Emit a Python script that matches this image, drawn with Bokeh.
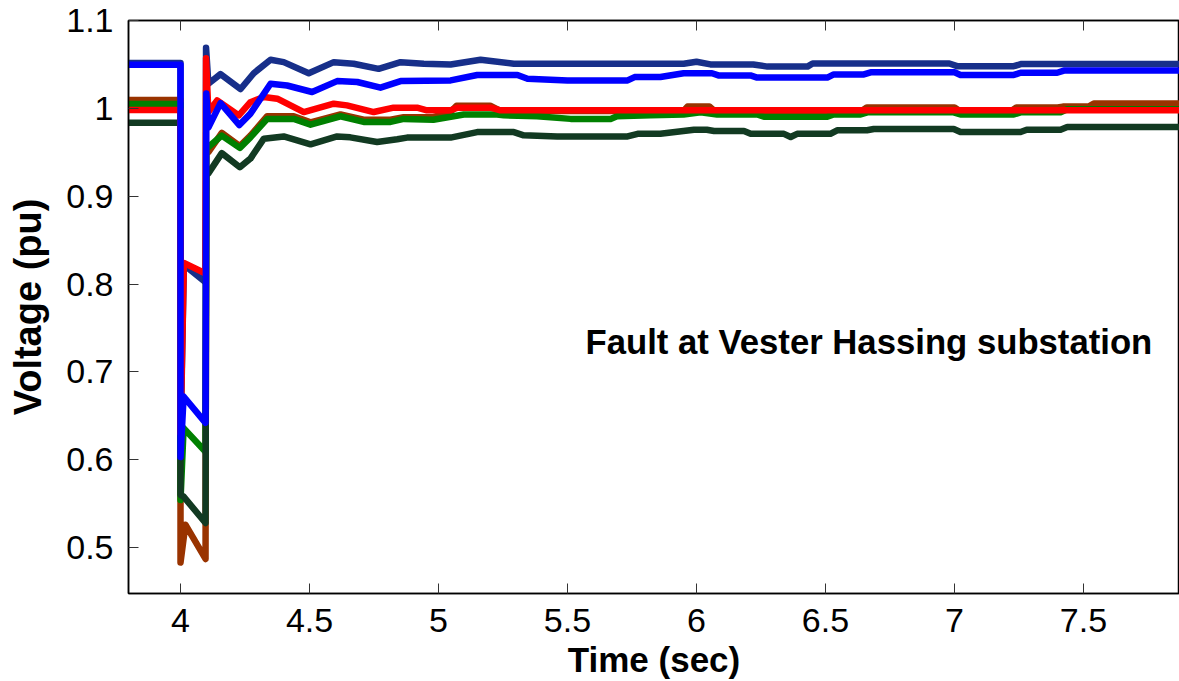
from bokeh.plotting import figure
from bokeh.models import Range1d, LinearAxis, FixedTicker, Label
from bokeh.embed import file_html
from bokeh.resources import INLINE

# ---------------- data ----------------
navy_t = [3.8, 4.0, 4.0, 4.013, 4.097, 4.099, 4.108, 4.155, 4.233, 4.284, 4.349, 4.40, 4.497,
          4.594, 4.671, 4.768, 4.853, 4.943, 5.047, 5.163, 5.292, 5.95, 6.0, 6.054, 6.22, 6.275,
          6.43, 6.45, 6.98, 7.01, 7.23, 7.26, 7.88]
navy_v = [1.0515, 1.0515, 0.62, 0.822, 0.802, 1.069, 1.028, 1.039, 1.022, 1.040, 1.0553, 1.0526,
          1.040, 1.0526, 1.0508, 1.045, 1.0526, 1.0508, 1.050, 1.0553, 1.0508, 1.0508, 1.053, 1.050,
          1.050, 1.0475, 1.0475, 1.051, 1.051, 1.048, 1.048, 1.0505, 1.0505]

blue_t = [3.8, 4.0, 4.0, 4.012, 4.097, 4.100, 4.108, 4.155, 4.228, 4.271, 4.349, 4.413, 4.510,
          4.607, 4.685, 4.775, 4.853, 5.047, 5.15, 5.306, 5.345, 5.50, 5.733, 5.76, 5.86, 5.95,
          6.06, 6.085, 6.209, 6.235, 6.507, 6.532, 6.649, 6.675, 7.0, 7.023, 7.23, 7.256, 7.398,
          7.424, 7.88]
blue_v = [1.0495, 1.0495, 0.603, 0.672, 0.642, 1.017, 0.978, 1.006, 0.981, 0.994, 1.028, 1.026,
          1.0186, 1.031, 1.030, 1.0235, 1.031, 1.0318, 1.038, 1.038, 1.0337, 1.0318, 1.0318, 1.0356,
          1.0356, 1.040, 1.040, 1.0375, 1.0375, 1.035, 1.035, 1.0386, 1.0386, 1.041, 1.041, 1.038,
          1.038, 1.0405, 1.0405, 1.043, 1.043]

red_t = [3.8, 4.0, 4.0, 4.013, 4.097, 4.099, 4.108, 4.142, 4.226, 4.271, 4.323, 4.375, 4.478,
         4.594, 4.645, 4.749, 4.826, 4.917, 4.955, 5.047, 5.073, 5.202, 5.24, 7.88]
red_v = [0.998, 0.998, 0.63, 0.824, 0.812, 1.057, 0.9958, 1.009, 0.992, 1.007, 1.0129, 1.011,
         0.9958, 1.0053, 1.0034, 0.9958, 1.0008, 1.0008, 0.9977, 0.9977, 1.0008, 1.0008, 0.9977,
         0.9977]

green_t = [3.8, 4.0, 4.0, 4.012, 4.097, 4.100, 4.108, 4.16, 4.23, 4.271, 4.336, 4.439, 4.504,
           4.62, 4.71, 4.814, 4.865, 4.98, 5.098, 5.227, 5.253, 5.382, 5.512, 5.667, 5.692, 5.822,
           5.95, 6.016, 6.08, 6.235, 6.261, 6.507, 6.532, 6.636, 6.662, 6.997, 7.023, 7.23, 7.256,
           7.411, 7.437, 7.88]
green_v = [1.005, 1.005, 0.554, 0.636, 0.609, 0.96, 0.956, 0.969, 0.955, 0.967, 0.988, 0.988,
           0.9814, 0.991, 0.9845, 0.9845, 0.988, 0.987, 0.993, 0.993, 0.992, 0.991, 0.988, 0.988,
           0.991, 0.992, 0.993, 0.9955, 0.993, 0.993, 0.9905, 0.9905, 0.993, 0.993, 0.9955, 0.9955,
           0.993, 0.993, 0.9955, 0.9955, 0.999, 0.999]

darkgreen_t = [3.8, 4.0, 4.0, 4.012, 4.097, 4.100, 4.108, 4.16, 4.23, 4.271, 4.323, 4.40, 4.504,
               4.607, 4.658, 4.762, 4.84, 4.878, 5.047, 5.15, 5.292, 5.33, 5.46, 5.733, 5.772,
               5.86, 5.99, 6.04, 6.068, 6.184, 6.21, 6.339, 6.365, 6.39, 6.519, 6.545, 6.661,
               6.687, 6.997, 7.023, 7.256, 7.28, 7.411, 7.437, 7.88]
darkgreen_v = [0.9837, 0.9837, 0.56, 0.558, 0.528, 0.93, 0.926, 0.949, 0.933, 0.9428, 0.9655,
               0.968, 0.959, 0.968, 0.967, 0.9617, 0.9648, 0.9667, 0.9667, 0.973, 0.973, 0.9693,
               0.968, 0.968, 0.971, 0.971, 0.9757, 0.9757, 0.9742, 0.9742, 0.971, 0.971, 0.9674,
               0.971, 0.971, 0.975, 0.975, 0.9765, 0.9765, 0.973, 0.973, 0.9757, 0.9757, 0.9788,
               0.9788]

brown_t = [3.8, 4.0, 4.0, 4.019, 4.097, 4.100, 4.108, 4.16, 4.23, 4.271, 4.336, 4.439, 4.504,
           4.62, 4.71, 4.814, 4.865, 4.98, 5.047, 5.07, 5.20, 5.24, 5.95, 5.965, 6.05, 6.07, 6.64,
           6.66, 7.0, 7.02, 7.22, 7.24, 7.40, 7.42, 7.52, 7.54, 7.88]
brown_v = [1.0095, 1.0095, 0.483, 0.526, 0.487, 0.96, 0.95, 0.972, 0.957, 0.969, 0.991, 0.991,
           0.984, 0.993, 0.987, 0.987, 0.990, 0.990, 0.996, 1.003, 1.003, 0.997, 0.997, 1.002,
           1.002, 0.997, 0.997, 1.001, 1.001, 0.997, 0.997, 1.001, 1.001, 1.002, 1.002, 1.0055,
           1.0055]

x_ticks = [4, 4.5, 5, 5.5, 6, 6.5, 7, 7.5]
x_tick_labels = ["4", "4.5", "5", "5.5", "6", "6.5", "7", "7.5"]
y_ticks = [0.5, 0.6, 0.7, 0.8, 0.9, 1.0, 1.1]
y_tick_labels = ["0.5", "0.6", "0.7", "0.8", "0.9", "1", "1.1"]

annotation = "Fault at Vester Hassing substation"
x_title = "Time (sec)"
y_title = "Voltage (pu)"

# ---------------- figure ----------------
FONT = "Liberation Sans"

p = figure(width=1179, height=681, output_backend="svg", toolbar_location=None,
           x_range=Range1d(3.7984, 7.8721), y_range=Range1d(0.4477, 1.1),
           min_border_left=128, min_border_right=0, min_border_top=20, min_border_bottom=87,
           x_axis_type=None, y_axis_type=None)
p.grid.visible = False
p.outline_line_color = "black"
p.outline_line_width = 1.5
p.background_fill_color = "white"
p.border_fill_color = "white"

series = [
    (navy_t, navy_v, "#172f8a"),
    (brown_t, brown_v, "#993300"),
    (green_t, green_v, "#008000"),
    (darkgreen_t, darkgreen_v, "#123a22"),
    (red_t, red_v, "#ff0000"),
    (blue_t, blue_v, "#0000ff"),
]
for t, v, c in series:
    p.line(t, v, line_color=c, line_width=6.5, line_join="round", line_cap="round")

def style_axis(ax, show_labels=True):
    ax.axis_line_color = "black"
    ax.axis_line_width = 1.5
    ax.major_tick_in = 10
    ax.major_tick_out = 0
    ax.major_tick_line_color = "#333333"
    ax.major_tick_line_width = 1
    ax.minor_tick_line_color = None
    ax.major_label_text_font = FONT
    ax.major_label_text_color = "black"
    ax.axis_label_text_color = "black"
    if not show_labels:
        ax.major_label_text_font_size = "1px"
        ax.major_label_text_color = None
        ax.major_label_standoff = 0

xaxis = LinearAxis(ticker=FixedTicker(ticks=x_ticks),
                   major_label_overrides=dict(zip(x_ticks, x_tick_labels)))
style_axis(xaxis)
xaxis.major_label_text_font_size = "34px"
xaxis.major_label_standoff = 15
xaxis.axis_label = x_title
xaxis.axis_label_text_font = FONT
xaxis.axis_label_text_font_style = "bold"
xaxis.axis_label_text_font_size = "35px"
xaxis.axis_label_standoff = 5
p.add_layout(xaxis, "below")

yaxis = LinearAxis(ticker=FixedTicker(ticks=y_ticks),
                   major_label_overrides=dict(zip(y_ticks, y_tick_labels)))
style_axis(yaxis)
yaxis.major_label_text_font_size = "34px"
yaxis.major_label_standoff = 15
yaxis.axis_label = y_title
yaxis.axis_label_text_font = FONT
yaxis.axis_label_text_font_style = "bold"
yaxis.axis_label_text_font_size = "38px"
yaxis.axis_label_standoff = 14
p.add_layout(yaxis, "left")

top_axis = LinearAxis(ticker=FixedTicker(ticks=x_ticks))
style_axis(top_axis, show_labels=False)
p.add_layout(top_axis, "above")

p.add_layout(Label(x=5.57, y=0.734, text=annotation, text_font=FONT, text_font_style="bold",
                   text_font_size="34.7px", text_align="left", text_baseline="alphabetic",
                   text_color="black"))

open("out.html", "w").write(file_html(p, INLINE))
